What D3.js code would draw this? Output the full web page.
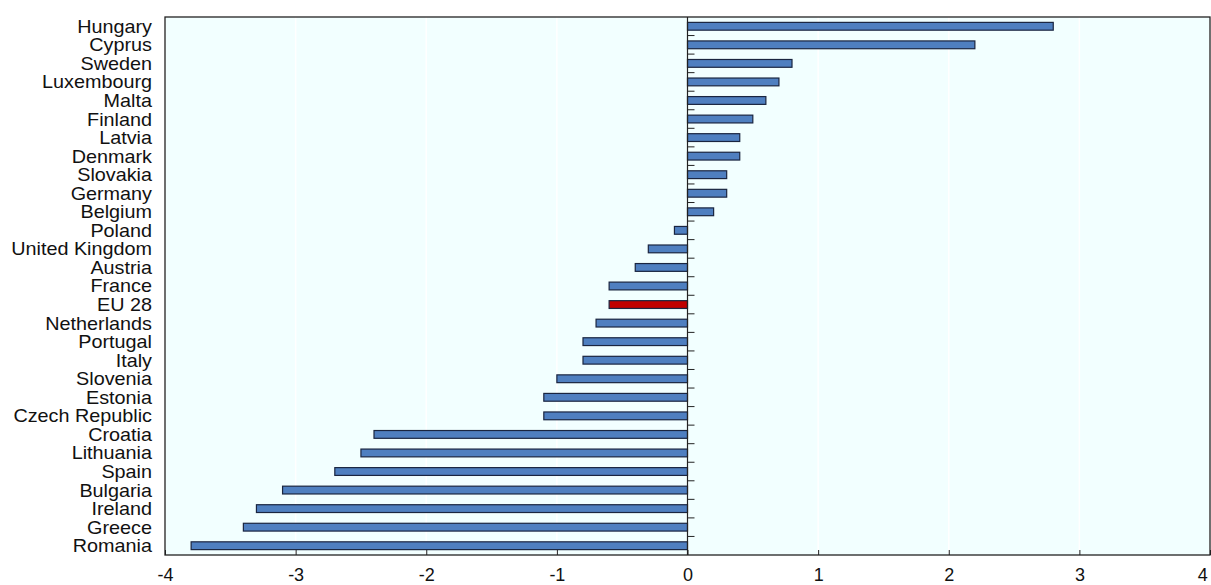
<!DOCTYPE html>
<html>
<head>
<meta charset="utf-8">
<script src="https://cdn.jsdelivr.net/npm/d3@7"></script>
<style>
  body { margin: 0; background: #fff; }
  text { font-family: "Liberation Sans", Arial, sans-serif; fill: #111; }
</style>
</head>
<body>
<div id="canvas"></div>
<script>
const countries = ["Hungary", "Cyprus", "Sweden", "Luxembourg", "Malta", "Finland", "Latvia",
    "Denmark", "Slovakia", "Germany", "Belgium", "Poland", "United Kingdom", "Austria", "France",
    "EU 28", "Netherlands", "Portugal", "Italy", "Slovenia", "Estonia", "Czech Republic", "Croatia",
    "Lithuania", "Spain", "Bulgaria", "Ireland", "Greece", "Romania"];
const values = [2.8, 2.2, 0.8, 0.7, 0.6, 0.5, 0.4, 0.4, 0.3, 0.3, 0.2, -0.1, -0.3, -0.4, -0.6,
    -0.6, -0.7, -0.8, -0.8, -1.0, -1.1, -1.1, -2.4, -2.5, -2.7, -3.1, -3.3, -3.4, -3.8];
const xTicks = [-4, -3, -2, -1, 0, 1, 2, 3, 4];

const data = countries.map((c, i) => ({ name: c, value: values[i] }));

const margin = { Top: 17, Right: 1, Bottom: 30, Left: 165 };
const W = 1211, H = 585;
const width = W - margin.Left - margin.Right;
const height = H - margin.Top - margin.Bottom;

const svg = d3.select("#canvas").append("svg")
    .attr("width", W)
    .attr("height", H);

const g = svg.append("g")
    .attr("transform", `translate(${margin.Left}, ${margin.Top})`);

const x = d3.scaleLinear().domain([-4, 4]).range([0, width]);
const y = d3.scaleBand().domain(countries).range([0, height]).paddingInner(0.58).paddingOuter(0.29);

// background
g.append("rect")
    .attr("width", width).attr("height", height)
    .attr("fill", "#f2ffff");

// gridlines
g.selectAll(".grid").data(xTicks).enter().append("line")
    .attr("x1", d => x(d)).attr("x2", d => x(d))
    .attr("y1", 0).attr("y2", height)
    .attr("stroke", "#ffffff").attr("stroke-width", 1.5);

// bars
g.selectAll(".bar").data(data).enter().append("rect")
    .attr("x", d => x(Math.min(0, d.value)))
    .attr("y", d => y(d.name))
    .attr("width", d => Math.abs(x(d.value) - x(0)))
    .attr("height", y.bandwidth())
    .attr("fill", d => d.name === "EU 28" ? "#c00000" : "#4f7fc0")
    .attr("stroke", "#1a2540")
    .attr("stroke-width", 1.2);

// zero line with ticks at band boundaries
g.append("line")
    .attr("x1", x(0)).attr("x2", x(0))
    .attr("y1", 0).attr("y2", height)
    .attr("stroke", "#222").attr("stroke-width", 1.2);
const step = y.step();
g.selectAll(".ytick").data(countries.slice(1)).enter().append("line")
    .attr("x1", x(0)).attr("x2", x(0) + 7)
    .attr("y1", (d, i) => (i + 1) * step)
    .attr("y2", (d, i) => (i + 1) * step)
    .attr("stroke", "#222").attr("stroke-width", 1);

// category labels (slightly wide text like the original)
g.selectAll(".lbl").data(data).enter().append("text")
    .attr("transform", d => `translate(-13, ${y(d.name) + y.bandwidth() / 2}) scale(1.1, 1)`)
    .attr("dy", "0.36em")
    .attr("text-anchor", "end")
    .attr("font-size", 18)
    .text(d => d.name);

// x axis
const xAxisCall = d3.axisBottom(x).tickValues(xTicks).tickSize(-5).tickPadding(13)
    .tickFormat(d => String(d));
const xa = g.append("g")
    .attr("transform", `translate(0, ${height})`)
    .call(xAxisCall);
xa.select(".domain").remove();
xa.selectAll("line").attr("stroke", "#222");
xa.selectAll("text")
    .attr("font-size", 18)
    .attr("font-family", "Liberation Sans, Arial, sans-serif")
    .attr("fill", "#111");
// keep the last label inside the page
xa.selectAll("text").filter(d => d === 4).attr("text-anchor", "end").attr("dx", "-0.15em");

// frame
g.append("rect")
    .attr("width", width).attr("height", height)
    .attr("fill", "none")
    .attr("stroke", "#222").attr("stroke-width", 1.3);
</script>
</body>
</html>
